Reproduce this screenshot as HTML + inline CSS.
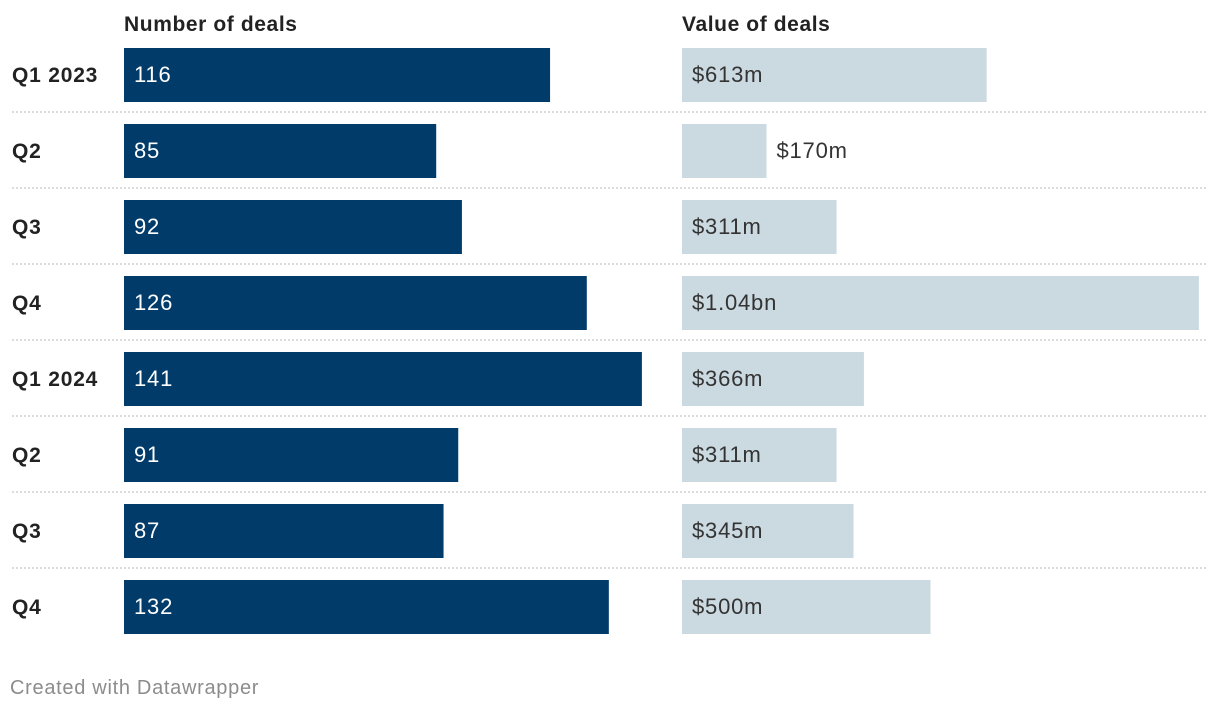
<!DOCTYPE html>
<html><head><meta charset="utf-8"><style>
body{margin:0;background:#fff;width:1220px;height:710px;overflow:hidden;font-family:"Liberation Sans",Arial,sans-serif;}
svg text{font-family:"Liberation Sans",Arial,sans-serif;}
</style></head><body>
<svg id="chart" width="1220" height="710" xmlns="http://www.w3.org/2000/svg">
<text x="124" y="31" font-size="21" font-weight="bold" fill="#222" letter-spacing="0.6">Number of deals</text>
<text x="682" y="31" font-size="21" font-weight="bold" fill="#222" letter-spacing="0.6">Value of deals</text>
<text x="10" y="694" font-size="20" fill="#8c8c8c" letter-spacing="0.7">Created with Datawrapper</text>
</svg>
<script>
const categories = ["Q1 2023","Q2","Q3","Q4","Q1 2024","Q2","Q3","Q4"];
const dealCounts = [116,85,92,126,141,91,87,132];
const dealValues = [613,170,311,1040,366,311,345,500];
const valueLabels = ["$613m","$170m","$311m","$1.04bn","$366m","$311m","$345m","$500m"];

const svg = document.getElementById('chart');
const NS = 'http://www.w3.org/2000/svg';
const rowTop = 48, pitch = 76, barH = 54;
const x1 = v => v * 3.673;
const x2 = v => v * 0.497;
function mk(tag, attrs){const e=document.createElementNS(NS,tag);for(const k in attrs)e.setAttribute(k,attrs[k]);svg.appendChild(e);return e;}

categories.forEach((c,i)=>{
  const y = rowTop + i*pitch;
  const lab = mk('text',{x:12,y:y+34,'font-size':21,'font-weight':'bold',fill:'#222','letter-spacing':0.8});
  lab.textContent = c;
  
  
  if(i>0){
    const ln = mk('line',{x1:12,x2:1208,y1:y-12,y2:y-12,stroke:'#c8c8c8','stroke-width':1.3,'stroke-dasharray':'2,2'});
    
    
  }
  const w1 = x1(dealCounts[i]);
  const b1 = mk('rect',{x:124,y:y,width:w1,height:barH,fill:'#013b6a'});
  
  
  const t1 = mk('text',{x:134,y:y+34,'font-size':22,fill:'#fff','letter-spacing':0.8});
  t1.textContent = dealCounts[i];
  
  
  const w2 = x2(dealValues[i]);
  const b2 = mk('rect',{x:682,y:y,width:w2,height:barH,fill:'#cbd9e1'});
  
  
  const inside = w2 > 100;
  const t2 = mk('text',{x: inside ? 692 : 682 + w2 + 10, y:y+34,'font-size':22,fill:'#333','letter-spacing':0.8});
  t2.textContent = valueLabels[i];
  
  
});
</script>
</body></html>
